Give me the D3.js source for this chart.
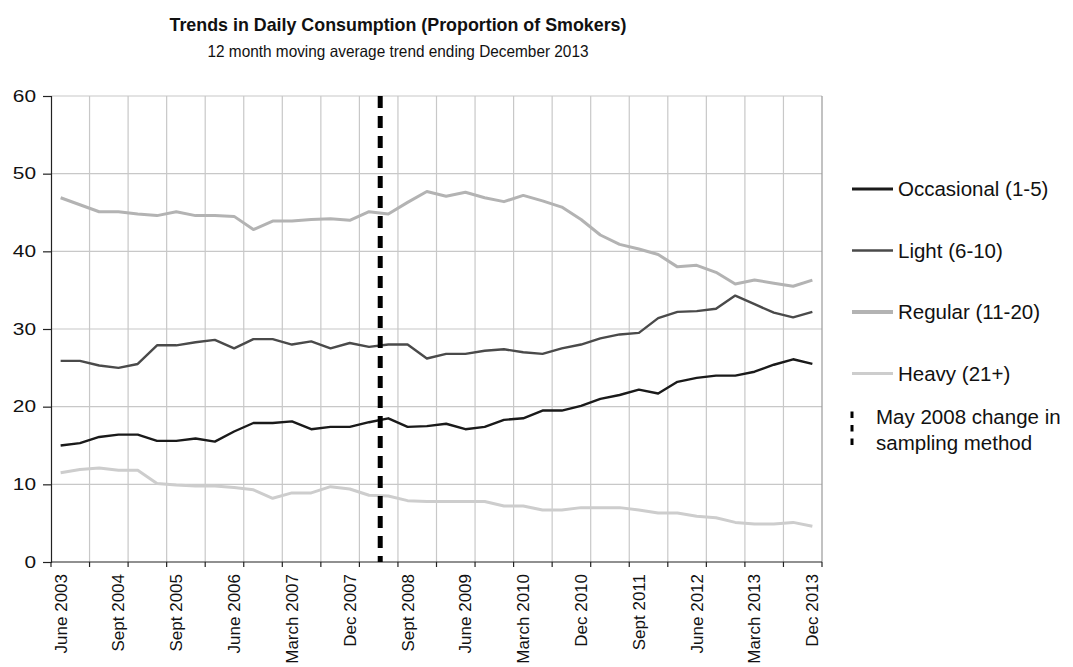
<!DOCTYPE html>
<html>
<head>
<meta charset="utf-8">
<script src="https://cdn.jsdelivr.net/npm/d3@7"></script>
<style>
  body { margin: 0; background: #fff; }
  svg { font-family: "Liberation Sans", Arial, sans-serif; }
</style>
</head>
<body>
<div id="chart"></div>
<script>
// quarterly categories (12 month moving average)
const categories = [
  'June 2003', 'Dec 2003', 'March 2004', 'Sept 2004', 'Dec 2004', 'June 2005', 'Sept 2005', 'Dec 2005',
  'March 2006', 'June 2006', 'Sept 2006', 'Dec 2006', 'March 2007', 'June 2007', 'Sept 2007', 'Dec 2007',
  'March 2008', 'June 2008', 'Sept 2008', 'Dec 2008', 'March 2009', 'June 2009', 'Sept 2009', 'Dec 2009',
  'March 2010', 'June 2010', 'Sept 2010', 'Dec 2010', 'March 2011', 'June 2011', 'Sept 2011', 'Dec 2011',
  'March 2012', 'June 2012', 'Sept 2012', 'Dec 2012', 'March 2013', 'June 2013', 'Sept 2013', 'Dec 2013'
];

const occasional = [15.0, 15.3, 16.1, 16.4, 16.4, 15.6, 15.6, 15.9, 15.5, 16.8,
  17.9, 17.9, 18.1, 17.1, 17.4, 17.4, 18.0, 18.5, 17.4, 17.5,
  17.8, 17.1, 17.4, 18.3, 18.5, 19.5, 19.5, 20.1, 21.0, 21.5,
  22.2, 21.7, 23.2, 23.7, 24.0, 24.0, 24.5, 25.4, 26.1, 25.5];

const light = [25.9, 25.9, 25.3, 25.0, 25.5, 27.9, 27.9, 28.3, 28.6, 27.5,
  28.7, 28.7, 28.0, 28.4, 27.5, 28.2, 27.7, 28.0, 28.0, 26.2,
  26.8, 26.8, 27.2, 27.4, 27.0, 26.8, 27.5, 28.0, 28.8, 29.3,
  29.5, 31.4, 32.2, 32.3, 32.6, 34.3, 33.2, 32.1, 31.5, 32.2];

const regular = [46.9, 46.0, 45.1, 45.1, 44.8, 44.6, 45.1, 44.6, 44.6, 44.5,
  42.8, 43.9, 43.9, 44.1, 44.2, 44.0, 45.1, 44.8, 46.3, 47.7,
  47.1, 47.6, 46.9, 46.4, 47.2, 46.5, 45.7, 44.1, 42.1, 40.9,
  40.3, 39.6, 38.0, 38.2, 37.3, 35.8, 36.3, 35.9, 35.5, 36.3];

const heavy = [11.5, 11.9, 12.1, 11.8, 11.8, 10.1, 9.9, 9.8, 9.8, 9.6,
  9.3, 8.2, 8.9, 8.9, 9.7, 9.4, 8.6, 8.5, 7.9, 7.8,
  7.8, 7.8, 7.8, 7.2, 7.2, 6.7, 6.7, 7.0, 7.0, 7.0,
  6.7, 6.3, 6.3, 5.9, 5.7, 5.1, 4.9, 4.9, 5.1, 4.6];

const seriesNames = ['Occasional (1-5)', 'Light (6-10)', 'Regular (11-20)', 'Heavy (21+)'];
const yTicks = [0, 10, 20, 30, 40, 50, 60];
const changeLabel = ['May 2008 change in', 'sampling method'];
const changePos = 17.08; // in category units, May 2008

const width = 1073, height = 667;
const margin = { top: 96, right: 251, bottom: 105, left: 51 };

const series = [
  { name: seriesNames[0], values: occasional, color: '#1a1a1a', width: 2.4, legendWidth: 3 },
  { name: seriesNames[1], values: light, color: '#4a4a4a', width: 2.4, legendWidth: 2.6 },
  { name: seriesNames[2], values: regular, color: '#b3b3b3', width: 3, legendWidth: 4 },
  { name: seriesNames[3], values: heavy, color: '#cdcdcd', width: 3, legendWidth: 3 }
];

const svg = d3.select('#chart').append('svg')
  .attr('width', width)
  .attr('height', height);

const x = d3.scaleBand()
  .domain(categories)
  .range([margin.left, width - margin.right])
  .padding(0);

// linear version of the same axis, for boundaries
const xi = d3.scaleLinear()
  .domain([0, categories.length])
  .range([margin.left, width - margin.right]);

const y = d3.scaleLinear()
  .domain([0, 60])
  .range([height - margin.bottom, margin.top]);

// horizontal grid
svg.append('g')
  .selectAll('line')
  .data(yTicks.slice(1))
  .enter().append('line')
  .attr('x1', xi(0)).attr('x2', xi(categories.length))
  .attr('y1', d => y(d)).attr('y2', d => y(d))
  .attr('stroke', '#c8c8c8')
  .attr('stroke-width', 1.2);

// vertical grid every 2 categories
const boundaries = d3.range(2, categories.length + 1, 2);
svg.append('g')
  .selectAll('line')
  .data(boundaries)
  .enter().append('line')
  .attr('x1', d => xi(d)).attr('x2', d => xi(d))
  .attr('y1', y(60)).attr('y2', y(0))
  .attr('stroke', d => d === categories.length ? '#999' : '#c8c8c8')
  .attr('stroke-width', 1.2);

// x ticks
svg.append('g')
  .selectAll('line')
  .data(d3.range(0, categories.length + 1, 2))
  .enter().append('line')
  .attr('x1', d => xi(d)).attr('x2', d => xi(d))
  .attr('y1', y(0)).attr('y2', y(0) + 5)
  .attr('stroke', '#222')
  .attr('stroke-width', 1.2);

// x labels every 3rd category
svg.append('g')
  .selectAll('text')
  .data(categories.filter((d, i) => i % 3 === 0))
  .enter().append('text')
  .attr('transform', d => `translate(${x(d) + x.bandwidth() / 2},${y(0) + 12}) rotate(-90)`)
  .attr('text-anchor', 'end')
  .attr('dy', '0.35em')
  .attr('font-size', 17)
  .attr('fill', '#111')
  .text(d => d);

// y axis
const yAxis = svg.append('g')
  .attr('transform', `translate(${margin.left},0)`)
  .call(d3.axisLeft(y).tickValues(yTicks).tickSize(8).tickPadding(7));
yAxis.select('.domain').attr('stroke', '#222').attr('stroke-width', 1.2);
yAxis.selectAll('.tick line').attr('stroke', '#222').attr('stroke-width', 1.2);
yAxis.selectAll('.tick text')
  .attr('font-size', 16)
  .attr('font-family', '"Liberation Sans", Arial, sans-serif')
  .attr('fill', '#111')
  .attr('textLength', d => String(d).length * 11.6)
  .attr('lengthAdjust', 'spacingAndGlyphs');

// bottom axis line
svg.append('line')
  .attr('x1', xi(0)).attr('x2', xi(categories.length))
  .attr('y1', y(0)).attr('y2', y(0))
  .attr('stroke', '#222')
  .attr('stroke-width', 1.2);

// series lines
const line = d3.line()
  .x((d, i) => x(categories[i]) + x.bandwidth() / 2)
  .y(d => y(d));

svg.append('g')
  .selectAll('path')
  .data(series.slice().reverse())
  .enter().append('path')
  .attr('d', d => line(d.values))
  .attr('fill', 'none')
  .attr('stroke', d => d.color)
  .attr('stroke-width', d => d.width)
  .attr('stroke-linejoin', 'round');

// sampling change marker
svg.append('line')
  .attr('x1', xi(changePos)).attr('x2', xi(changePos))
  .attr('y1', y(60)).attr('y2', y(0))
  .attr('stroke', '#000')
  .attr('stroke-width', 5)
  .attr('stroke-dasharray', '12,8');

// title
svg.append('text')
  .attr('x', 398).attr('y', 31)
  .attr('text-anchor', 'middle')
  .attr('font-size', 19)
  .attr('font-weight', 'bold')
  .attr('fill', '#111')
  .attr('textLength', 457)
  .attr('lengthAdjust', 'spacingAndGlyphs')
  .text('Trends in Daily Consumption (Proportion of Smokers)');

svg.append('text')
  .attr('x', 398).attr('y', 57)
  .attr('text-anchor', 'middle')
  .attr('font-size', 16.5)
  .attr('fill', '#111')
  .attr('textLength', 381)
  .attr('lengthAdjust', 'spacingAndGlyphs')
  .text('12 month moving average trend ending December 2013');

// legend
const legend = svg.append('g').attr('transform', 'translate(852,189)');
const item = legend.selectAll('g')
  .data(series)
  .enter().append('g')
  .attr('transform', (d, i) => `translate(0,${i * 61.5})`);
item.append('line')
  .attr('x1', 0).attr('x2', 41)
  .attr('stroke', d => d.color)
  .attr('stroke-width', d => d.legendWidth);
item.append('text')
  .attr('x', 46)
  .attr('dy', '0.35em')
  .attr('font-size', 20.5)
  .attr('fill', '#111')
  .text(d => d.name);

const change = legend.append('g').attr('transform', 'translate(0,222.5)');
change.append('line')
  .attr('x1', 0).attr('x2', 0)
  .attr('y1', 0).attr('y2', 34)
  .attr('stroke', '#000')
  .attr('stroke-width', 3)
  .attr('stroke-dasharray', '6.5,7');
change.selectAll('text')
  .data(changeLabel)
  .enter().append('text')
  .attr('x', 24)
  .attr('y', (d, i) => 5 + i * 26)
  .attr('dy', '0.35em')
  .attr('font-size', 20.5)
  .attr('fill', '#111')
  .text(d => d);
</script>
</body>
</html>
